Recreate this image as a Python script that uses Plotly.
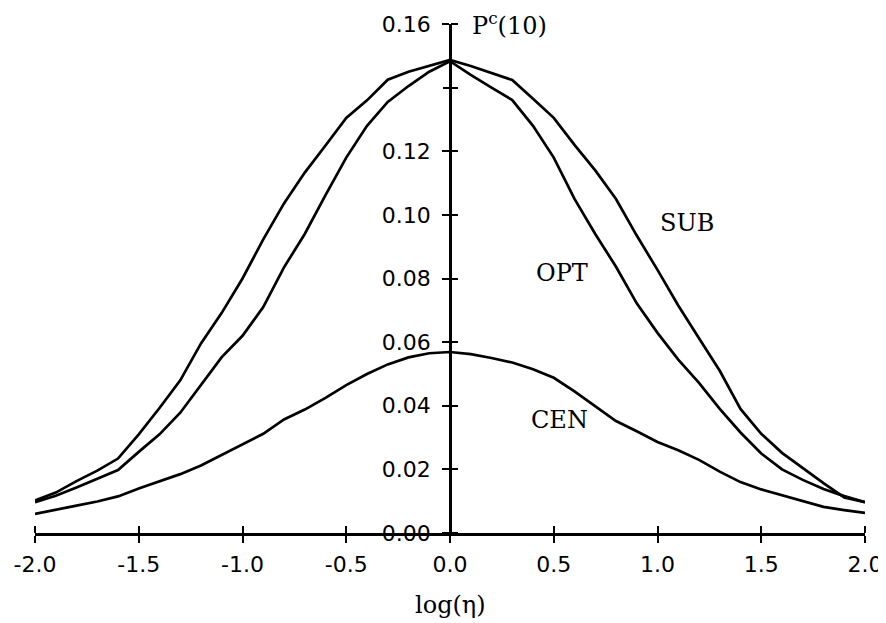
import plotly.graph_objects as go

log_eta = [round(-2.0 + 0.1 * i, 1) for i in range(41)]

sub_vals = [0.0102, 0.0127, 0.0163, 0.0196, 0.0234, 0.0310, 0.0393, 0.0480, 0.0596, 0.0692,
            0.0800, 0.0923, 0.1036, 0.1133, 0.1218, 0.1305, 0.1360, 0.1425, 0.1450, 0.1468,
            0.1487,
            0.1468, 0.1447, 0.1424, 0.1365, 0.1305, 0.1220, 0.1140, 0.1050, 0.0935, 0.0827,
            0.0715, 0.0612, 0.0510, 0.0390, 0.0312, 0.0252, 0.0204, 0.0157, 0.0112, 0.0097]

opt_vals = [0.0097, 0.0117, 0.0143, 0.0170, 0.0198, 0.0255, 0.0310, 0.0378, 0.0467, 0.0553,
            0.0620, 0.0710, 0.0835, 0.0940, 0.1062, 0.1180, 0.1280, 0.1355, 0.1405, 0.1450,
            0.1483,
            0.1440, 0.1400, 0.1361, 0.1280, 0.1180, 0.1050, 0.0940, 0.0837, 0.0722, 0.0629,
            0.0545, 0.0472, 0.0390, 0.0316, 0.0250, 0.0200, 0.0167, 0.0138, 0.0116, 0.0097]

cen_vals = [0.0060, 0.0074, 0.0086, 0.0099, 0.0115, 0.0140, 0.0162, 0.0185, 0.0212, 0.0245,
            0.0278, 0.0312, 0.0357, 0.0388, 0.0425, 0.0465, 0.0500, 0.0530, 0.0552, 0.0565,
            0.0569,
            0.0562, 0.0550, 0.0536, 0.0515, 0.0488, 0.0445, 0.0398, 0.0352, 0.0320, 0.0286,
            0.0260, 0.0230, 0.0193, 0.0160, 0.0137, 0.0118, 0.0100, 0.0082, 0.0072, 0.0063]

x_ticks = [-2.0, -1.5, -1.0, -0.5, 0.0, 0.5, 1.0, 1.5, 2.0]
x_tick_text = ["-2.0", "-1.5", "-1.0", "-0.5", "0.0", "0.5", "1.0", "1.5", "2.0"]
y_ticks = [0.00, 0.02, 0.04, 0.06, 0.08, 0.10, 0.12, 0.14, 0.16]
y_labeled_ticks = [0.00, 0.02, 0.04, 0.06, 0.08, 0.10, 0.12, 0.16]
y_tick_text = ["0.00", "0.02", "0.04", "0.06", "0.08", "0.10", "0.12", "0.16"]
y_unlabeled_ticks = [0.14]

series_labels = ["SUB", "OPT", "CEN"]
label_x = [1.14, 0.54, 0.53]
label_y = [0.0975, 0.0818, 0.0355]

line = dict(color="black", width=2.7)
fig = go.Figure()
fig.add_trace(go.Scatter(x=log_eta, y=sub_vals, mode="lines", line=line, name="SUB",
                         xaxis="x", yaxis="y"))
fig.add_trace(go.Scatter(x=log_eta, y=opt_vals, mode="lines", line=line, name="OPT",
                         xaxis="x2", yaxis="y2"))
fig.add_trace(go.Scatter(x=log_eta, y=cen_vals, mode="lines", line=line, name="CEN",
                         xaxis="x", yaxis="y3"))

tick_font = dict(family="DejaVu Sans", size=22, color="black")
label_font = dict(family="DejaVu Serif", size=24, color="black")

common = dict(showgrid=False, zeroline=False, linecolor="black", linewidth=2.5,
              ticklen=7, tickwidth=2, tickcolor="black", tickfont=tick_font,
              ticks="outside", automargin=False)

# page body has an 8px default margin; size the figure to fit the 886x623 window
fig.update_layout(
    width=878, height=615,
    margin=dict(l=27, r=21, t=16, b=90, autoexpand=False),
    paper_bgcolor="white", plot_bgcolor="white",
    showlegend=False,
    xaxis=dict(**common, range=[-2, 2], showline=True, tickvals=x_ticks,
               ticktext=x_tick_text, anchor="y", ticklabelstandoff=3),
    xaxis2=dict(**common, range=[-2, 2], showline=False, tickvals=x_ticks,
                showticklabels=False, overlaying="x", side="top", anchor="free", position=0),
    yaxis=dict(**common, range=[0, 0.16], showline=True, tickvals=y_labeled_ticks,
               ticktext=y_tick_text, anchor="free", position=0.5, side="left",
               ticklabelstandoff=7),
    yaxis2=dict(**common, range=[0, 0.16], showline=False, tickvals=y_ticks,
                showticklabels=False, overlaying="y", side="right", anchor="free",
                position=0.5),
    yaxis3=dict(**common, range=[0, 0.16], showline=False, tickvals=y_unlabeled_ticks,
                showticklabels=False, overlaying="y", side="left", anchor="free",
                position=0.5),
)

for txt, lx, ly in zip(series_labels, label_x, label_y):
    fig.add_annotation(x=lx, y=ly, xref="x", yref="y", text=txt, showarrow=False,
                       font=label_font, xanchor="center", yanchor="middle")

fig.add_annotation(x=0, y=0.16, xref="x", yref="y", text="P<sup>c</sup>(10)", showarrow=False,
                   font=label_font, xanchor="left", yanchor="middle", xshift=20)
fig.add_annotation(x=0.5, y=-0.142, xref="paper", yref="paper", text="log(η)", showarrow=False,
                   font=label_font, xanchor="center", yanchor="middle")

fig.write_html("out.html")
